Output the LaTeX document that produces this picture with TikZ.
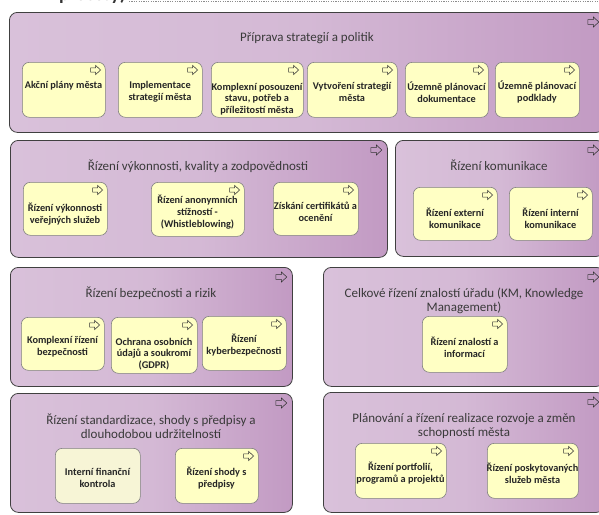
\documentclass[tikz,border=0pt]{standalone}
\usepackage{fontspec}
\setmainfont{Carlito}
\begin{document}
\definecolor{lavL}{HTML}{D9C1DA}
\definecolor{lavM}{HTML}{D4B9D5}
\definecolor{lavR}{HTML}{C29AC3}
\definecolor{procfill}{HTML}{FFFFC4}
\definecolor{palefill}{HTML}{F7F5D6}
\definecolor{titlegray}{HTML}{3A3A3A}
\definecolor{textdark}{HTML}{262626}
\begin{tikzpicture}[x=1pt,y=-1pt,
  groupbox/.style={draw=black!75, line width=0.8pt, rounded corners=8pt,
    left color=lavL, right color=lavR, middle color=lavM, inner sep=0pt},
  procbox/.style={draw=black!50, line width=0.6pt, rounded corners=7pt,
    fill=procfill, inner sep=0pt},
  palebox/.style={procbox, fill=palefill},
  grouptitle/.style={font=\fontsize{13}{14.5}\selectfont, text=titlegray,
    align=center, inner sep=0pt},
  proctext/.style={font=\fontsize{10.3}{11.8}\selectfont\bfseries, text=textdark,
    align=center, inner sep=0pt},
  iconline/.style={draw=black!80, line width=0.55pt, line join=miter},
  procicon/.pic={\draw[iconline] (-10,-2.2) -- (-5,-2.2) -- (-5,-4.6) -- (0,0)
    -- (-5,4.6) -- (-5,2.2) -- (-10,2.2) -- cycle;},
  groupicon/.pic={\draw[iconline, scale=1.1] (-10,-2.2) -- (-5,-2.2) -- (-5,-4.6)
    -- (0,0) -- (-5,4.6) -- (-5,2.2) -- (-10,2.2) -- cycle;}
]
\useasboundingbox (0,0) rectangle (599,514);
\clip (0,0) rectangle (599,514);

% heading above the groups and its dashed rule
\node[anchor=base east, font=\fontsize{19}{22}\selectfont\bfseries, text=black!80,
  inner sep=0pt] (head) at (126,1) {procesy)};
\coordinate (ruleA) at (129,1.5);
\coordinate (ruleB) at (599,1.5);
\draw[black!45, dashed, dash pattern=on 1.2pt off 1.2pt, line width=0.5pt] (ruleA) -- (ruleB);

% groups: name, left, top, right, bottom
\foreach \n/\xa/\ya/\xb/\yb in {
  P1/9/12/604/132, P2/10/140/387/257, P3/395/140/604/256,
  P4/10/267/292/386, P5/323/267/604/386, P6/10/393/292/512, P7/323/392/604/512}{
  \node[groupbox, anchor=north west, minimum width=\xb-\xa, minimum height=\yb-\ya]
    (\n) at (\xa,\ya) {};
  \pic at ([shift={(-6,10)}]\n.north east) {groupicon};
}

% group titles
\node[grouptitle] (T1) at (307,38) {Příprava strategií a politik};
\node[grouptitle] (T2) at (198,166) {Řízení výkonnosti, kvality a zodpovědnosti};
\node[grouptitle] (T3) at (499,165) {Řízení komunikace};
\node[grouptitle] (T4) at (151,293) {Řízení bezpečnosti a rizik};
\node[grouptitle] (T5) at (464,301) {Celkové řízení znalostí úřadu (KM, Knowledge\\Management)};
\node[grouptitle] (T6) at (151,426) {Řízení standardizace, shody s předpisy a\\dlouhodobou udržitelností};
\node[grouptitle] (T7) at (464,426) {Plánování a řízení realizace rozvoje a změn\\schopností města};

% processes: name, left, top, right, bottom, text centre, text
\foreach \n/\xa/\ya/\xb/\yb/\ty/\txt in {
  a1/22/62/105/117/86/{Akční plány města},
  a2/118/62/202/117/92/{Implementace\\strategií města},
  a3/211/62/303/117/99/{Komplexní posouzení\\stavu, potřeb a\\příležitostí města},
  a4/307/62/397/117/92/{Vytvoření strategií\\města},
  a5/405/62/488/117/92/{Územně plánovací\\dokumentace},
  a6/495/62/579/117/92/{Územně plánovací\\podklady},
  b1/23/182/107/235/214/{Řízení výkonnosti\\veřejných služeb},
  b2/151/182/244/236/212/{Řízení anonymních\\stížností -\\(Whistleblowing)},
  b3/273/182/358/235/212/{Získání certifikátů a\\ocenění},
  c1/413/187/497/240/218/{Řízení externí\\komunikace},
  c2/509/187/592/240/218/{Řízení interní\\komunikace},
  d1/21/317/104/370/347/{Komplexní řízení\\bezpečnosti},
  d2/111/317/197/373/354/{Ochrana osobních\\údajů a soukromí\\(GDPR)},
  d3/202/316/286/370/345/{Řízení\\kyberbezpečnosti},
  e1/422/316/507/372/347/{Řízení znalostí a\\informací},
  f2/175/448/258/503/478/{Řízení shody s\\předpisy},
  g1/355/443/446/498/473/{Řízení portfolií,\\programů a projektů},
  g2/487/443/578/498/473/{Řízení poskytovaných\\služeb města}}{
  \node[procbox, anchor=north west, minimum width=\xb-\xa, minimum height=\yb-\ya]
    (\n) at (\xa,\ya) {};
  \node[proctext] (\n-t) at ({(\xa+\xb)/2},\ty) {\txt};
  \pic at ([shift={(-5,8)}]\n.north east) {procicon};
}

% process drawn without its icon
\node[palebox, anchor=north west, minimum width=85, minimum height=55] (f1) at (55,448) {};
\node[proctext] (f1-t) at (97.5,478) {Interní finanční\\kontrola};
\end{tikzpicture}
\end{document}
